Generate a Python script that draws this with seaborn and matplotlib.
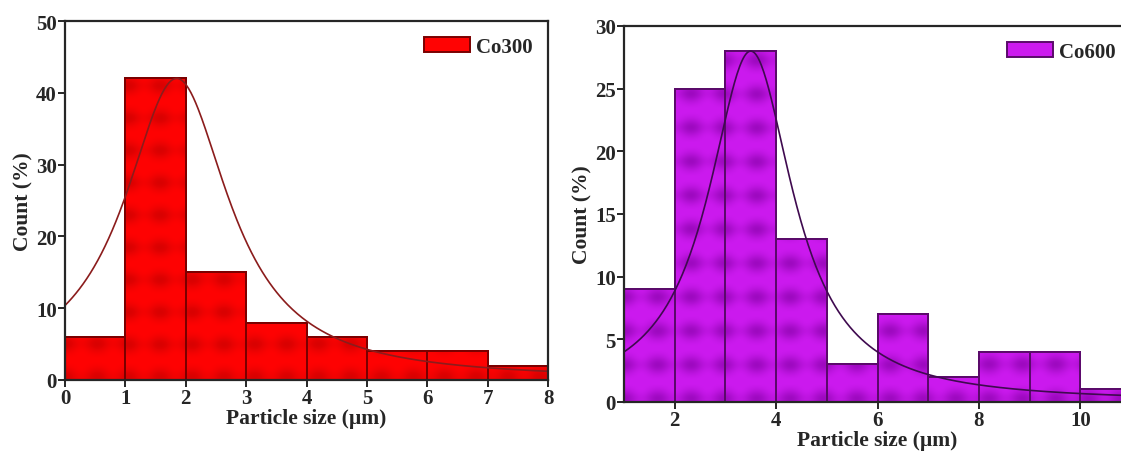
import numpy as np
import pandas as pd
import matplotlib
matplotlib.use("Agg")
import matplotlib.pyplot as plt
from matplotlib.patches import Patch
import seaborn as sns

# Particle size distributions (bin edges in µm, counts in %)
co300_edges = [0, 1, 2, 3, 4, 5, 6, 7, 8]
co300_counts = [6, 42, 15, 8, 6, 4, 4, 2]
co600_edges = [1, 2, 3, 4, 5, 6, 7, 8, 9, 10, 11]
co600_counts = [9, 25, 28, 13, 3, 7, 2, 4, 4, 1]

# Lorentzian fit parameters: centre (µm), FWHM (µm), peak height (%)
co300_fit = dict(xc=1.85, w=2.12, h=42.0)
co600_fit = dict(xc=3.5, w=2.04, h=28.0)

sns.set_style("ticks")
plt.rcParams["font.family"] = ["Liberation Serif", "DejaVu Serif"]
plt.rcParams["font.weight"] = "bold"
plt.rcParams["axes.labelweight"] = "bold"
plt.rcParams["axes.linewidth"] = 1.6

TICK_FS = 15
LABEL_FS = 15.5


def lorentz(x, xc, w, h):
    return h * w**2 / (4 * (x - xc) ** 2 + w**2)


def texture_bars(ax, base, dark, strength, n_bars):
    """Overlay a soft blotchy fill on each histogram bar."""
    nx, ny = 520, 400
    gx, gy = np.meshgrid(np.arange(nx), np.arange(ny))
    cx = 0.5 * (1 + np.cos(2 * np.pi * gx / 34.0))
    cy = 0.5 * (1 + np.cos(2 * np.pi * gy / 36.0))
    v = strength * (0.55 * cx * cy + 0.25 * cy ** 3)
    v = np.clip(v, 0, 1)
    base = np.array(matplotlib.colors.to_rgb(base))
    dark = np.array(matplotlib.colors.to_rgb(dark))
    img = base[None, None, :] * (1 - v[..., None]) + dark[None, None, :] * v[..., None]
    for p in ax.patches[:n_bars]:
        im = ax.imshow(img, extent=(0, 1, 0, 1), transform=ax.transAxes,
                       aspect="auto", interpolation="bilinear", zorder=p.get_zorder() + 0.1)
        im.set_clip_path(p)
        edge = matplotlib.patches.Rectangle(p.get_xy(), p.get_width(), p.get_height(),
                                            fill=False, edgecolor=p.get_edgecolor(),
                                            linewidth=p.get_linewidth(),
                                            zorder=p.get_zorder() + 0.2)
        ax.add_patch(edge)


def panel(ax, edges, counts, fit, face, dark, strength, edge, curve, label,
          xlim, ylim, xticks, yticks):
    centers = [(a + b) / 2 for a, b in zip(edges[:-1], edges[1:])]
    df = pd.DataFrame({"size": centers, "count": counts})
    sns.histplot(data=df, x="size", weights="count", bins=edges, ax=ax,
                 color=face, edgecolor=edge, linewidth=1.4, alpha=1, zorder=2)
    texture_bars(ax, face, dark, strength, len(counts))
    xs = np.linspace(xlim[0], xlim[1], 400)
    sns.lineplot(x=xs, y=lorentz(xs, **fit), ax=ax, color=curve, linewidth=1.2, zorder=5)
    ax.set_xlim(*xlim)
    ax.set_ylim(*ylim)
    ax.set_xticks(xticks)
    ax.set_yticks(yticks)
    ax.set_xlabel("Particle size (\u00b5m)", fontsize=LABEL_FS, labelpad=0)
    ax.set_ylabel("Count (%)", fontsize=LABEL_FS, labelpad=2)
    ax.tick_params(axis="both", labelsize=TICK_FS, width=1.4, length=5, direction="out", pad=1)
    for t in ax.get_xticklabels() + ax.get_yticklabels():
        t.set_fontweight("bold")
    for s in ax.spines.values():
        s.set_visible(True)
        s.set_linewidth(1.6)
        s.set_zorder(10)
    handle = Patch(facecolor=face, edgecolor=edge, linewidth=1.4)
    ax.legend([handle], [label], loc="upper right", frameon=False,
              handlelength=2.2, handleheight=0.7, handletextpad=0.3,
              borderaxespad=0.35, prop={"weight": "bold", "size": TICK_FS})


fig = plt.figure(figsize=(11.21, 4.52), dpi=100)
ax1 = fig.add_axes([65 / 1121, (452 - 381) / 452, (548 - 65) / 1121, (381 - 22) / 452])
ax2 = fig.add_axes([624 / 1121, (452 - 403) / 452, (1131 - 624) / 1121, (403 - 27) / 452])

panel(ax1, co300_edges, co300_counts, co300_fit,
      face="#ff0303", dark="#b00000", strength=0.6, edge="#7a0000", curve="#8b1c1c",
      label="Co300", xlim=(0, 8), ylim=(0, 50), xticks=range(0, 9), yticks=range(0, 51, 10))
panel(ax2, co600_edges, co600_counts, co600_fit,
      face="#cc1aef", dark="#8400a6", strength=0.8, edge="#5a0a6a", curve="#3f0a4f",
      label="Co600", xlim=(1, 11), ylim=(0, 30), xticks=[2, 4, 6, 8, 10], yticks=range(0, 31, 5))

fig.savefig("out.png", dpi=100)
